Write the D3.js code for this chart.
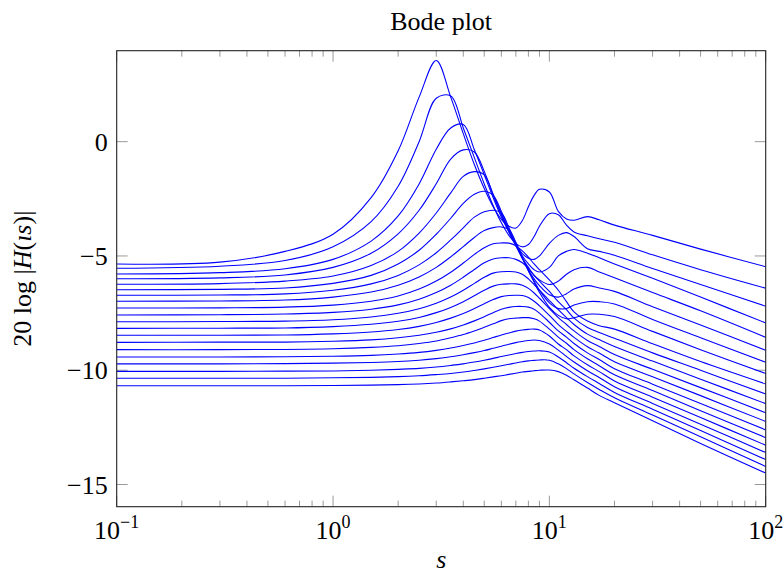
<!DOCTYPE html>
<html>
<head>
<meta charset="utf-8">
<script src="https://cdn.jsdelivr.net/npm/d3@7"></script>
<style>
body { margin:0; background:#fff; }
text { font-family: "Liberation Serif", "DejaVu Serif", serif; fill:#000; }
</style>
</head>
<body>
<div id="chart"></div>
<script>
// frequences communes a toutes les courbes
const S = [0.1, 0.3, 0.6, 1, 1.5, 2, 2.5, 3, 3.5, 4, 4.5, 5, 5.5, 6, 6.5, 7, 7.5, 8, 8.5, 9, 10, 11, 12, 13, 15, 17, 20, 30, 50, 100];

// valeurs (dB), une liste par courbe, de haut en bas
const c1  = [-5.35, -5.27, -4.8, -4.05, -2.45, -0.4, 1.95, 3.55, 1.95, 0.35, -1.0, -2.05, -2.85, -3.4, -3.7, -3.78, -3.45, -2.85, -2.35, -2.08, -2.2, -3.05, -3.38, -3.44, -3.28, -3.42, -3.65, -4.1, -4.7, -5.47];
const c2  = [-5.54, -5.45, -5.2, -4.6, -3.5, -1.95, 0.0, 1.9, 2.0, 0.6, -0.7, -1.85, -2.8, -3.55, -4.1, -4.45, -4.6, -4.5, -4.15, -3.7, -3.15, -3.2, -3.65, -3.95, -4.12, -4.25, -4.4, -4.95, -5.6, -6.41];
const c3  = [-5.79, -5.73, -5.56, -5.15, -4.35, -3.25, -1.85, -0.33, 0.6, 0.75, -0.35, -1.45, -2.45, -3.3, -3.95, -4.5, -4.9, -5.1, -5.15, -5.0, -4.45, -4.1, -3.98, -4.15, -4.68, -4.8, -4.97, -5.55, -6.25, -7.2];
const c4  = [-6.0, -5.96, -5.83, -5.5, -4.88, -4.03, -3.0, -1.84, -0.76, -0.36, -0.45, -1.3, -2.35, -3.2, -3.95, -4.55, -5.0, -5.35, -5.6, -5.7, -5.5, -5.0, -4.8, -4.72, -4.88, -5.08, -5.35, -5.98, -6.8, -7.93];
const c5  = [-6.24, -6.21, -6.1, -5.88, -5.42, -4.8, -4.0, -3.12, -2.24, -1.52, -1.31, -1.45, -2.3, -3.15, -3.9, -4.55, -5.1, -5.5, -5.85, -6.05, -6.25, -6.1, -5.8, -5.6, -5.5, -5.7, -5.95, -6.6, -7.4, -8.56];
const c6  = [-6.48, -6.46, -6.4, -6.2, -5.85, -5.35, -4.75, -4.05, -3.35, -2.7, -2.3, -2.17, -2.35, -3.05, -3.85, -4.5, -5.1, -5.6, -6.0, -6.3, -6.7, -6.8, -6.65, -6.45, -6.3, -6.4, -6.55, -7.22, -8.02, -9.13];
const c7  = [-6.72, -6.71, -6.66, -6.5, -6.22, -5.85, -5.39, -4.86, -4.3, -3.77, -3.3, -3.07, -3.0, -3.12, -3.75, -4.45, -5.1, -5.65, -6.1, -6.5, -7.05, -7.3, -7.3, -7.15, -7.0, -7.0, -7.1, -7.78, -8.58, -9.65];
const c8  = [-6.98, -6.97, -6.93, -6.8, -6.58, -6.28, -5.92, -5.5, -5.04, -4.59, -4.19, -3.89, -3.76, -3.73, -3.85, -4.4, -5.05, -5.65, -6.15, -6.6, -7.25, -7.6, -7.75, -7.7, -7.55, -7.55, -7.65, -8.3, -9.1, -10.14];
const c9  = [-7.28, -7.27, -7.24, -7.15, -6.98, -6.75, -6.45, -6.1, -5.71, -5.31, -4.93, -4.64, -4.47, -4.43, -4.44, -4.55, -4.78, -5.05, -5.35, -5.6, -6.05, -6.5, -7.0, -7.45, -7.85, -8.05, -8.2, -8.84, -9.62, -10.6];
const c10 = [-7.58, -7.57, -7.54, -7.47, -7.33, -7.14, -6.89, -6.6, -6.28, -5.93, -5.59, -5.3, -5.13, -5.08, -5.08, -5.15, -5.3, -5.55, -5.85, -6.1, -6.55, -7.0, -7.35, -7.72, -8.13, -8.35, -8.6, -9.24, -10.0, -11.04];
const c11 = [-7.88, -7.87, -7.85, -7.79, -7.67, -7.51, -7.31, -7.07, -6.8, -6.5, -6.2, -5.93, -5.75, -5.69, -5.68, -5.7, -5.8, -6.0, -6.25, -6.5, -6.95, -7.35, -7.7, -8.0, -8.42, -8.66, -8.96, -9.6, -10.39, -11.46];
const c12 = [-8.17, -8.16, -8.15, -8.09, -7.99, -7.86, -7.69, -7.48, -7.25, -7.0, -6.74, -6.5, -6.32, -6.24, -6.22, -6.22, -6.28, -6.42, -6.62, -6.85, -7.3, -7.7, -8.0, -8.28, -8.7, -8.96, -9.31, -9.96, -10.76, -11.86];
const c13 = [-8.47, -8.47, -8.46, -8.41, -8.33, -8.22, -8.08, -7.91, -7.72, -7.52, -7.3, -7.09, -6.91, -6.78, -6.73, -6.72, -6.73, -6.82, -6.98, -7.18, -7.6, -8.0, -8.3, -8.56, -8.97, -9.25, -9.63, -10.28, -11.11, -12.24];
const c14 = [-8.78, -8.77, -8.77, -8.73, -8.67, -8.58, -8.47, -8.34, -8.19, -8.02, -7.84, -7.66, -7.48, -7.33, -7.25, -7.21, -7.21, -7.24, -7.33, -7.5, -7.9, -8.28, -8.55, -8.83, -9.24, -9.53, -9.93, -10.61, -11.46, -12.61];
const c15 = [-9.1, -9.1, -9.09, -9.06, -9.0, -8.93, -8.83, -8.72, -8.58, -8.44, -8.28, -8.12, -7.97, -7.83, -7.75, -7.72, -7.7, -7.7, -7.75, -7.85, -8.2, -8.55, -8.82, -9.1, -9.5, -9.8, -10.2, -10.89, -11.77, -12.95];
const c16 = [-9.42, -9.42, -9.41, -9.39, -9.35, -9.29, -9.22, -9.13, -9.03, -8.92, -8.81, -8.69, -8.57, -8.46, -8.37, -8.29, -8.24, -8.21, -8.2, -8.24, -8.5, -8.85, -9.1, -9.37, -9.76, -10.06, -10.47, -11.18, -12.07, -13.28];
const c17 = [-9.72, -9.72, -9.71, -9.69, -9.66, -9.62, -9.56, -9.49, -9.41, -9.32, -9.23, -9.14, -9.04, -8.95, -8.86, -8.79, -8.74, -8.7, -8.68, -8.7, -8.85, -9.12, -9.4, -9.64, -10.02, -10.32, -10.72, -11.45, -12.36, -13.6];
const c18 = [-10.05, -10.05, -10.04, -10.03, -10.0, -9.96, -9.92, -9.86, -9.79, -9.72, -9.64, -9.56, -9.48, -9.4, -9.33, -9.27, -9.22, -9.18, -9.16, -9.15, -9.2, -9.42, -9.67, -9.91, -10.28, -10.58, -10.97, -11.71, -12.64, -13.91];
const c19 = [-10.35, -10.35, -10.35, -10.33, -10.31, -10.28, -10.24, -10.19, -10.14, -10.08, -10.01, -9.94, -9.87, -9.8, -9.74, -9.68, -9.63, -9.59, -9.57, -9.55, -9.56, -9.72, -9.93, -10.16, -10.54, -10.84, -11.2, -11.96, -12.91, -14.21];
const c20 = [-10.68, -10.68, -10.68, -10.67, -10.65, -10.63, -10.6, -10.56, -10.51, -10.46, -10.41, -10.35, -10.29, -10.24, -10.18, -10.13, -10.08, -10.05, -10.02, -10.0, -9.99, -10.06, -10.22, -10.42, -10.78, -11.1, -11.42, -12.21, -13.2, -14.5];

const courbes = [c1, c2, c3, c4, c5, c6, c7, c8, c9, c10, c11, c12, c13, c14, c15, c16, c17, c18, c19, c20];

// graduations
const xMajeurs = [0.1, 1, 10, 100];
const xExposants = ["\u22121", "0", "1", "2"];
const yMajeurs = [0, -5, -10, -15];
const yLabels = ["0", "\u22125", "\u221210", "\u221215"];

const W = 784, H = 579;
const gauche = 116.7, droite = 765.7, haut = 50.7, bas = 506.7;
const FS = 26; // taille du texte

const x = d3.scaleLog().domain([0.1, 100]).range([gauche, droite]);
const y = d3.scaleLinear().domain([-15.97, 3.98]).range([bas, haut]);

const svg = d3.select("#chart").append("svg").attr("width", W).attr("height", H);

// petites graduations log (2..9)
let xMineurs = [];
for (let d = -1; d <= 1; d++)
  for (let k = 2; k <= 9; k++) xMineurs.push(k * Math.pow(10, d));

const gT = svg.append("g").attr("stroke", "#9a9a9a").attr("stroke-width", 1);
xMineurs.forEach(v => {
  gT.append("line").attr("x1", x(v)).attr("x2", x(v)).attr("y1", bas).attr("y2", bas - 6);
  gT.append("line").attr("x1", x(v)).attr("x2", x(v)).attr("y1", haut).attr("y2", haut + 6);
});
xMajeurs.forEach(v => {
  gT.append("line").attr("x1", x(v)).attr("x2", x(v)).attr("y1", bas).attr("y2", bas - 11);
  gT.append("line").attr("x1", x(v)).attr("x2", x(v)).attr("y1", haut).attr("y2", haut + 11);
});
yMajeurs.forEach(v => {
  gT.append("line").attr("x1", gauche).attr("x2", gauche + 11).attr("y1", y(v)).attr("y2", y(v));
  gT.append("line").attr("x1", droite).attr("x2", droite - 11).attr("y1", y(v)).attr("y2", y(v));
});

// courbes
const ligne = d3.line()
  .x((d, i) => x(S[i]))
  .y(d => y(d))
  .curve(d3.curveCatmullRom.alpha(0.5));

svg.append("defs").append("clipPath").attr("id", "clip")
  .append("rect").attr("x", gauche).attr("y", haut).attr("width", droite - gauche).attr("height", bas - haut);

svg.append("g").attr("clip-path", "url(#clip)")
  .selectAll("path").data(courbes).enter().append("path")
  .attr("d", ligne)
  .attr("fill", "none")
  .attr("stroke", "#0000ff")
  .attr("stroke-width", 1.1);

// cadre
svg.append("rect").attr("x", gauche).attr("y", haut)
  .attr("width", droite - gauche).attr("height", bas - haut)
  .attr("fill", "none").attr("stroke", "#222").attr("stroke-width", 1.1);

// etiquettes y
svg.selectAll("text.ylab").data(yMajeurs).enter().append("text")
  .attr("class", "ylab")
  .attr("x", gauche - 9).attr("y", d => y(d) + 9)
  .attr("text-anchor", "end").attr("font-size", FS)
  .text((d, i) => yLabels[i]);

// etiquettes x : 10^n
const xl = svg.selectAll("text.xlab").data(xMajeurs).enter().append("text")
  .attr("class", "xlab")
  .attr("x", d => x(d)).attr("y", bas + 32)
  .attr("text-anchor", "middle").attr("font-size", FS);
xl.append("tspan").text("10");
xl.append("tspan").attr("font-size", 18).attr("dy", -11).text((d, i) => xExposants[i]);

// titre
svg.append("text").attr("x", (gauche + droite) / 2).attr("y", 30)
  .attr("text-anchor", "middle").attr("font-size", FS).text("Bode plot");

// axe x
svg.append("text").attr("x", (gauche + droite) / 2).attr("y", 568)
  .attr("text-anchor", "middle").attr("font-size", FS).attr("font-style", "italic").text("s");

// axe y
const yt = svg.append("text")
  .attr("transform", "translate(31," + ((haut + bas) / 2) + ") rotate(-90)")
  .attr("text-anchor", "middle").attr("font-size", FS);
yt.append("tspan").text("20 log |");
yt.append("tspan").attr("font-style", "italic").text("H");
yt.append("tspan").text("(");
yt.append("tspan").attr("font-style", "italic").text("\u0131s");
yt.append("tspan").text(")|");
</script>
</body>
</html>
